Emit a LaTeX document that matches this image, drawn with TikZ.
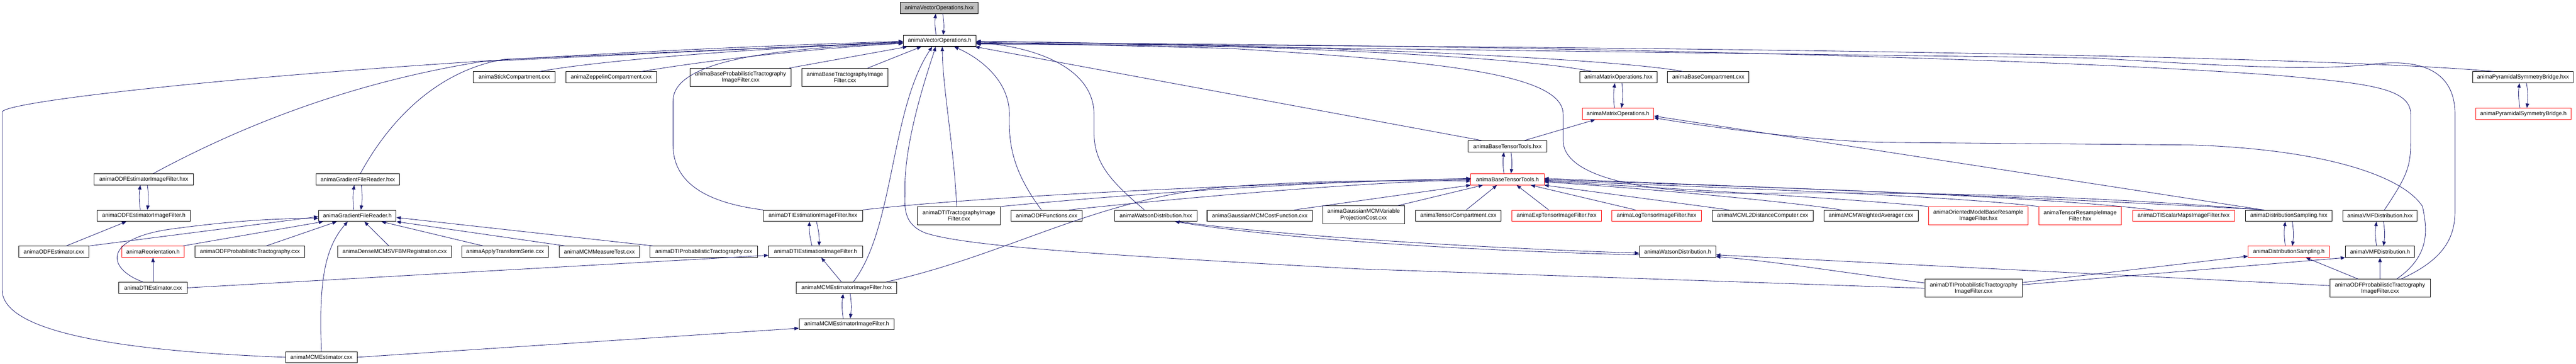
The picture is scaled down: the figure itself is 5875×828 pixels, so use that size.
\documentclass[tikz,border=0pt]{standalone}
\usepackage{fontspec}
\setmainfont{Liberation Sans}
\usetikzlibrary{arrows.meta}
\definecolor{midnight}{RGB}{25,25,112}
\definecolor{boxgray}{RGB}{191,191,191}
\tikzset{
    file/.style={rectangle,draw=black,line width=1.2pt,fill=white,inner sep=0pt,
        minimum height=25.5pt,align=center,font=\fontsize{12.8}{14.3}\selectfont},
    twoline/.style={minimum height=41pt},
    redfile/.style={draw=red},
    dep/.style={draw=midnight,line width=1pt,-{Triangle[length=10pt,width=8pt]}}
}
\begin{document}
\begin{tikzpicture}[x=1pt,y=-1pt]
            \useasboundingbox (0,0) rectangle (5875,828);
            \begin{scope}[every node/.style={file}]
                \node[fill=boxgray,minimum width=178] (vohxx) at (2142,18) {animaVectorOperations.hxx};
                \node[minimum width=166] (voh) at (2143,93) {animaVectorOperations.h};
                \node[minimum width=187] (stick) at (1173,176) {animaStickCompartment.cxx};
                \node[minimum width=206] (zeppelin) at (1394,176) {animaZeppelinCompartment.cxx};
                \node[twoline,minimum width=231] (baseprobtract) at (1689,176) {animaBaseProbabilisticTractography\\ImageFilter.cxx};
                \node[twoline,minimum width=197] (basetract) at (1927,176) {animaBaseTractographyImage\\Filter.cxx};
                \node[minimum width=176] (matohxx) at (3691,176) {animaMatrixOperations.hxx};
                \node[minimum width=186] (basecomp) at (3896,176) {animaBaseCompartment.cxx};
                \node[minimum width=230] (pyrhxx) at (5754,176) {animaPyramidalSymmetryBridge.hxx};
                \node[redfile,minimum width=163] (matoh) at (3690,259) {animaMatrixOperations.h};
                \node[redfile,minimum width=218] (pyrh) at (5755,259) {animaPyramidalSymmetryBridge.h};
                \node[minimum width=179] (btthxx) at (3438,333) {animaBaseTensorTools.hxx};
                \node[minimum width=226] (odfeifhxx) at (328,408) {animaODFEstimatorImageFilter.hxx};
                \node[minimum width=191] (gfrhxx) at (816,408) {animaGradientFileReader.hxx};
                \node[redfile,minimum width=167] (btth) at (3438,408) {animaBaseTensorTools.h};
                \node[minimum width=213] (odfeifh) at (328,491) {animaODFEstimatorImageFilter.h};
                \node[minimum width=177] (gfrh) at (815,491) {animaGradientFileReader.h};
                \node[minimum width=226] (dtieifhxx) at (1854,491) {animaDTIEstimationImageFilter.hxx};
                \node[twoline,minimum width=189] (dtitractif) at (2187,491) {animaDTITractographyImage\\Filter.cxx};
                \node[minimum width=163] (odffunc) at (2387,491) {animaODFFunctions.cxx};
                \node[minimum width=188] (watsonhxx) at (2636,491) {animaWatsonDistribution.hxx};
                \node[minimum width=240] (gausscost) at (2873,491) {animaGaussianMCMCostFunction.cxx};
                \node[twoline,minimum width=187] (gaussvarproj) at (3110,489) {animaGaussianMCMVariable\\ProjectionCost.cxx};
                \node[minimum width=195] (tensorcomp) at (3326,491) {animaTensorCompartment.cxx};
                \node[redfile,minimum width=204] (exptensor) at (3550,491) {animaExpTensorImageFilter.hxx};
                \node[redfile,minimum width=204] (logtensor) at (3778,491) {animaLogTensorImageFilter.hxx};
                \node[minimum width=230] (mcml2) at (4020,491) {animaMCML2DistanceComputer.cxx};
                \node[minimum width=215] (mcmweighted) at (4267,491) {animaMCMWeightedAverager.cxx};
                \node[redfile,twoline,minimum width=227] (orientedmodel) at (4512,491) {animaOrientedModelBaseResample\\ImageFilter.hxx};
                \node[redfile,twoline,minimum width=188] (tensorresample) at (4744,491) {animaTensorResampleImage\\Filter.hxx};
                \node[redfile,minimum width=233] (dtiscalarmaps) at (4980,491) {animaDTIScalarMapsImageFilter.hxx};
                \node[minimum width=197] (distsamphxx) at (5220,491) {animaDistributionSampling.hxx};
                \node[minimum width=170] (vmfhxx) at (5428,491) {animaVMFDistribution.hxx};
                \node[minimum width=160] (odfest) at (123,573) {animaODFEstimator.cxx};
                \node[redfile,minimum width=142] (reorient) at (349,573) {animaReorientation.h};
                \node[minimum width=251] (odfprobtract) at (570,573) {animaODFProbabilisticTractography.cxx};
                \node[minimum width=259] (densemcm) at (900,573) {animaDenseMCMSVFBMRegistration.cxx};
                \node[minimum width=198] (applytransform) at (1152,573) {animaApplyTransformSerie.cxx};
                \node[minimum width=183] (mcmmeasure) at (1367,573) {animaMCMMeasureTest.cxx};
                \node[minimum width=245] (dtiprobtract) at (1605,573) {animaDTIProbabilisticTractography.cxx};
                \node[minimum width=214] (dtieifh) at (1860,573) {animaDTIEstimationImageFilter.h};
                \node[minimum width=174] (watsonh) at (3826,573) {animaWatsonDistribution.h};
                \node[redfile,minimum width=185] (distsamph) at (5220,573) {animaDistributionSampling.h};
                \node[minimum width=158] (vmfh) at (5428,573) {animaVMFDistribution.h};
                \node[minimum width=156] (dtiest) at (349,655) {animaDTIEstimator.cxx};
                \node[minimum width=229] (mcmeifhxx) at (1931,655) {animaMCMEstimatorImageFilter.hxx};
                \node[twoline,minimum width=222] (dtiprobtractif) at (4501,656) {animaDTIProbabilisticTractography\\ImageFilter.cxx};
                \node[twoline,minimum width=229] (odfprobtractif) at (5428,656) {animaODFProbabilisticTractography\\ImageFilter.cxx};
                \node[minimum width=217] (mcmeifh) at (1931,738) {animaMCMEstimatorImageFilter.h};
                \node[minimum width=164] (mcmest) at (733,813) {animaMCMEstimator.cxx};
            \end{scope}
            \begin{scope}[every edge/.style={dep}]
                \path
                    ([xshift=-8pt]voh.north) edge[bend left=8] ([xshift=-8pt]vohxx.south)
                    ([xshift=8pt]vohxx.south) edge[bend left=8] ([xshift=8pt]voh.north)
                    ([xshift=-8pt]gfrh.north) edge[bend left=8] ([xshift=-8pt]gfrhxx.south)
                    ([xshift=8pt]gfrhxx.south) edge[bend left=8] ([xshift=8pt]gfrh.north)
                    ([xshift=-8pt]odfeifh.north) edge[bend left=8] ([xshift=-8pt]odfeifhxx.south)
                    ([xshift=8pt]odfeifhxx.south) edge[bend left=8] ([xshift=8pt]odfeifh.north)
                    ([xshift=-8pt]matoh.north) edge[bend left=8] ([xshift=-8pt]matohxx.south)
                    ([xshift=8pt]matohxx.south) edge[bend left=8] ([xshift=8pt]matoh.north)
                    ([xshift=-8pt]btth.north) edge[bend left=8] ([xshift=-8pt]btthxx.south)
                    ([xshift=8pt]btthxx.south) edge[bend left=8] ([xshift=8pt]btth.north)
                    ([xshift=-8pt]dtieifh.north) edge[bend left=8] ([xshift=-8pt]dtieifhxx.south)
                    ([xshift=8pt]dtieifhxx.south) edge[bend left=8] ([xshift=8pt]dtieifh.north)
                    ([xshift=-8pt]mcmeifh.north) edge[bend left=8] ([xshift=-8pt]mcmeifhxx.south)
                    ([xshift=8pt]mcmeifhxx.south) edge[bend left=8] ([xshift=8pt]mcmeifh.north)
                    ([xshift=-8pt]distsamph.north) edge[bend left=8] ([xshift=-8pt]distsamphxx.south)
                    ([xshift=8pt]distsamphxx.south) edge[bend left=8] ([xshift=8pt]distsamph.north)
                    ([xshift=-8pt]vmfh.north) edge[bend left=8] ([xshift=-8pt]vmfhxx.south)
                    ([xshift=8pt]vmfhxx.south) edge[bend left=8] ([xshift=8pt]vmfh.north)
                    ([xshift=-8pt]pyrh.north) edge[bend left=8] ([xshift=-8pt]pyrhxx.south)
                    ([xshift=8pt]pyrhxx.south) edge[bend left=8] ([xshift=8pt]pyrh.north)
                    ([xshift=111pt]baseprobtract.north) edge ([xshift=-74pt]voh.south)
                    ([xshift=52pt]basetract.north) edge ([xshift=-42pt]voh.south)
                    ([xshift=-59pt]btthxx.north) edge ([xshift=81pt]voh.south)
                    (odfest.north east) edge ([yshift=-2pt]gfrh.west)
                    ([xshift=68pt]reorient.north) edge ([xshift=-78pt]gfrh.south)
                    ([xshift=37pt]odfprobtract.north) edge ([xshift=-47pt]gfrh.south)
                    ([xshift=-13pt]densemcm.north) edge ([xshift=16pt]gfrh.south)
                    ([xshift=-50pt]applytransform.north) edge ([xshift=55pt]gfrh.south)
                    ([xshift=-78pt]mcmmeasure.north) edge (gfrh.south east)
                    ([xshift=-115pt]dtiprobtract.north) edge ([yshift=-4pt]gfrh.east)
                    ([xshift=28pt]odfest.north) edge ([xshift=-40pt]odfeifh.south)
                    (dtiest) edge (reorient)
                    (dtiest.east) edge ([yshift=-8pt]dtieifh.west)
                    (mcmest.east) edge ([yshift=-9pt]mcmeifh.west)
                    ([xshift=-12pt]mcmeifhxx.north) edge ([xshift=13pt]dtieifh.south)
                    ([xshift=79pt]gausscost.north) edge (btth.south west)
                    ([xshift=78pt]gaussvarproj.north) edge ([xshift=-56pt]btth.south)
                    ([xshift=18pt]tensorcomp.north) edge ([xshift=-24pt]btth.south)
                    ([xshift=-18pt]exptensor.north) edge ([xshift=21pt]btth.south)
                    ([xshift=-48pt]logtensor.north) edge ([xshift=53pt]btth.south)
                    ([xshift=-76pt]mcml2.north) edge (btth.south east)
                    ([xshift=39pt]btthxx.north) edge ([xshift=-52pt]matoh.south)
                    ([xshift=-59pt]distsamphxx.north) edge ([yshift=-5pt]matoh.east)
                    ([yshift=6pt]odfprobtractif.west) edge ([yshift=-7pt]watsonh.east)
                    ([yshift=13pt]dtiprobtractif.east) edge ([yshift=-10pt]distsamph.west)
                    ([yshift=8pt]dtiprobtractif.east) edge (vmfh.south west)
                    ([xshift=-50pt]odfprobtractif.north) edge ([xshift=39pt]distsamph.south)
                    (odfprobtractif) edge (vmfh);
                \draw[dep] (mcmest.west) .. controls (300,800) and (5,760) .. (5,660) -- (5,255)
                    .. controls (5,225) and (900,130) .. ([yshift=-1pt]voh.west);
                \draw[dep] ([xshift=22pt]odfeifhxx.north) .. controls (600,260) and (850,180) .. (1100,140)
                    -- ([yshift=-2pt]voh.west);
                \draw[dep] ([xshift=6pt]gfrhxx.north) .. controls (890,270) and (1000,160) .. (1150,135)
                    -- ([yshift=-3pt]voh.west);
                \draw[dep] ([xshift=58pt]stick.north) .. controls (1350,140) and (1700,110) .. ([yshift=-4pt]voh.west);
                \draw[dep] ([xshift=69pt]zeppelin.north) .. controls (1600,140) and (1800,115) .. ([yshift=-5pt]voh.west);
                \draw[dep] (dtieifhxx.north west) .. controls (1600,460) and (1535,410) .. (1535,330) -- (1535,230)
                    .. controls (1535,140) and (1750,110) .. ([yshift=-6pt]voh.west);
                \draw[dep] ([xshift=15pt]mcmeifhxx.north) .. controls (2040,520) and (2030,250) .. ([xshift=-17pt]voh.south);
                \draw[dep] (dtiprobtractif.west) -- (3100,612) .. controls (2500,580) and (2200,560) .. (2110,530)
                    .. controls (2065,512) and (2062,480) .. (2064,440)
                    .. controls (2060,330) and (2110,180) .. ([xshift=-9pt]voh.south);
                \draw[dep] ([xshift=-5pt]dtitractif.north) .. controls (2175,330) and (2150,200) .. ([xshift=6pt]voh.south);
                \draw[dep] ([xshift=-12pt]odffunc.north) .. controls (2310,390) and (2300,330) .. (2302,260)
                    .. controls (2302,180) and (2230,130) .. ([xshift=33pt]voh.south);
                \draw[dep] ([xshift=-26pt]watsonhxx.north) .. controls (2530,410) and (2495,370) .. (2495,300) -- (2495,260)
                    .. controls (2495,150) and (2350,105) .. ([yshift=-4pt]voh.east);
                \draw[dep] ([xshift=-60pt]matohxx.north) .. controls (3450,125) and (2800,100) .. ([yshift=-1pt]voh.east);
                \draw[dep] ([xshift=-58pt]basecomp.north) .. controls (3700,135) and (3000,100) .. ([yshift=-2pt]voh.east);
                \draw[dep] ([xshift=-60pt]distsamphxx.north) .. controls (4700,440) and (4300,437) .. (4000,440)
                    .. controls (3700,440) and (3565,390) .. (3565,320) -- (3565,260)
                    .. controls (3565,170) and (3300,140) .. (2800,110) -- ([yshift=-3pt]voh.east);
                \draw[dep] ([xshift=10pt]vmfhxx.north) .. controls (5490,400) and (5498,380) .. (5498,320) -- (5498,260)
                    .. controls (5498,200) and (5400,190) .. (5200,172)
                    .. controls (4500,120) and (3000,98) .. ([yshift=-5pt]voh.east);
                \draw[dep] ([xshift=48pt]odfprobtractif.north) .. controls (5575,590) and (5599,540) .. (5599,480) -- (5599,260)
                    .. controls (5599,160) and (5520,135) .. (5420,145)
                    .. controls (5300,160) and (5150,155) .. (4775,132) -- ([yshift=-6pt]voh.east);
                \draw[dep] ([xshift=-67pt]pyrhxx.north) .. controls (5450,140) and (4500,108) .. ([yshift=-7pt]voh.east);
                \draw[dep] ([xshift=-23pt]dtiest.north) .. controls (240,610) and (235,540) .. (400,520)
                    .. controls (550,500) and (650,497) .. ([yshift=-6pt]gfrh.west);
                \draw[dep] (mcmest.north) .. controls (728,660) and (735,570) .. ([xshift=-22pt]gfrh.south);
                \draw[dep] (dtieifhxx.north east) .. controls (2300,440) and (3000,415) .. ([yshift=2pt]btth.west);
                \draw[dep] (dtitractif.north east) .. controls (2600,440) and (3000,412) .. ([yshift=1pt]btth.west);
                \draw[dep] ([xshift=51pt]odffunc.north) .. controls (2700,450) and (3100,415) .. ([yshift=-1pt]btth.west);
                \draw[dep] ([xshift=90pt]mcmeifhxx.north) .. controls (2300,580) and (2500,450) .. (2800,425)
                    .. controls (3000,410) and (3200,410) .. ([yshift=-4pt]btth.west);
                \draw[dep] ([xshift=-67pt]mcmweighted.north) .. controls (4050,455) and (3700,425) .. ([yshift=-6pt]btth.east);
                \draw[dep] (orientedmodel.north west) .. controls (4200,450) and (3700,423) .. ([yshift=-4pt]btth.east);
                \draw[dep] (tensorresample.north west) .. controls (4400,440) and (3700,420) .. ([yshift=-2pt]btth.east);
                \draw[dep] ([xshift=-70pt]dtiscalarmaps.north) .. controls (4600,440) and (3800,420) .. (btth.east);
                \draw[dep] ([xshift=-56pt]distsamphxx.north) .. controls (4700,450) and (3800,418) .. ([yshift=2pt]btth.east);
                \draw[dep] ([xshift=38pt]odfprobtractif.north) .. controls (5545,580) and (5535,520) .. (5525,470)
                    .. controls (5480,400) and (5300,340) .. (5000,330) -- (4300,324)
                    .. controls (4150,322) and (3900,290) .. ([yshift=-9pt]matoh.east);
                \draw[dep] ([xshift=52pt]watsonhxx.south) .. controls (2950,540) and (3400,565) .. ([yshift=-3pt]watsonh.west);
                \draw[dep] ([yshift=-7pt]watsonh.west) .. controls (3400,572) and (2950,548) .. ([xshift=44pt]watsonhxx.south);
                \draw[dep] ([yshift=12pt]dtiprobtractif.west) .. controls (4200,620) and (4050,595) .. ([yshift=-11pt]watsonh.east);
            \end{scope}
        \end{tikzpicture}
\end{document}
